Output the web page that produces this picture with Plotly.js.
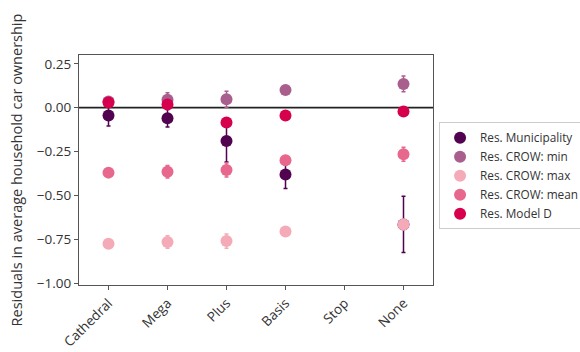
<!DOCTYPE html>
<html><head><meta charset="utf-8">
<script src="https://cdn.plot.ly/plotly-3.0.1.min.js"></script>
<style>body{margin:0;background:#fff}#c{width:580px;height:352px}</style>
</head><body><div id="c"></div>
<script>
const categories = ["Cathedral","Mega","Plus","Basis","Stop","None"];
const xs = ["Cathedral","Mega","Plus","Basis","None"];
const municipality = [-0.045, -0.06, -0.19, -0.38, -0.665];
const municipalityErr = [0.06, 0.05, 0.12, 0.08, 0.16];
const crowMin = [0.035, 0.045, 0.048, 0.10, 0.135];
const crowMinErr = [0.02, 0.04, 0.045, 0.015, 0.045];
const crowMax = [-0.775, -0.765, -0.76, -0.705, -0.665];
const crowMaxErr = [0.015, 0.035, 0.04, 0.015, 0.03];
const crowMean = [-0.37, -0.365, -0.355, -0.30, -0.265];
const crowMeanErr = [0.015, 0.035, 0.04, 0.025, 0.04];
const modelD = [0.03, 0.018, -0.085, -0.045, -0.022];
const modelDErr = [0.015, 0.015, 0.015, 0.01, 0.01];

const series = [
  ["Res. Municipality", municipality, municipalityErr, "#520350"],
  ["Res. CROW: min", crowMin, crowMinErr, "#a95f8e"],
  ["Res. CROW: max", crowMax, crowMaxErr, "#f5aab8"],
  ["Res. CROW: mean", crowMean, crowMeanErr, "#e8678c"],
  ["Res. Model D", modelD, modelDErr, "#d6004c"]
];
const traces = series.map(([name, y, e, c]) => ({
  type: "scatter", mode: "markers", name: name, x: xs, y: y,
  marker: {color: c, size: 12},
  error_y: {type: "data", array: e, visible: true, color: c, thickness: 1.5, width: 2}
}));
const font = "Open Sans, Lato, sans-serif";
const layout = {
  width: 580, height: 352,
  margin: {l: 79, r: 147, t: 55, b: 67},
  paper_bgcolor: "#fff", plot_bgcolor: "#fff",
  font: {family: font, size: 12, color: "#333"},
  showlegend: true,
  legend: {xref: "container", yref: "container", x: 0.757, y: 0.653, xanchor: "left", yanchor: "top",
           bordercolor: "#ccc", borderwidth: 1,
           font: {size: 11.8, color: "#333"}, tracegroupgap: 0, itemsizing: "constant"},
  xaxis: {type: "category", categoryorder: "array", categoryarray: categories,
          range: [-0.5, 5.5], showgrid: false, zeroline: false, showline: true, mirror: true,
          linecolor: "#555", linewidth: 1, ticks: "outside", ticklen: 4, tickcolor: "#555",
          tickangle: -45, tickfont: {size: 13.5, color: "#333"}},
  yaxis: {range: [-1.01, 0.30], tickvals: [0.25, 0, -0.25, -0.5, -0.75, -1.0],
          ticktext: ["0.25","0.00","\u22120.25","\u22120.50","\u22120.75","\u22121.00"],
          showgrid: false, zeroline: false, showline: true, mirror: true,
          linecolor: "#555", linewidth: 1, ticks: "outside", ticklen: 4, tickcolor: "#555",
          tickfont: {size: 13.5, color: "#333"},
          title: {text: "Residuals in average household car ownership", font: {size: 14.5, color: "#333"}, standoff: 10}},
  shapes: [{type: "line", xref: "paper", x0: 0, x1: 1, yref: "y", y0: 0, y1: 0,
            line: {color: "#222", width: 1.8}, layer: "below"}]
};
Plotly.newPlot("c", traces, layout, {displayModeBar: false});
</script></body></html>
